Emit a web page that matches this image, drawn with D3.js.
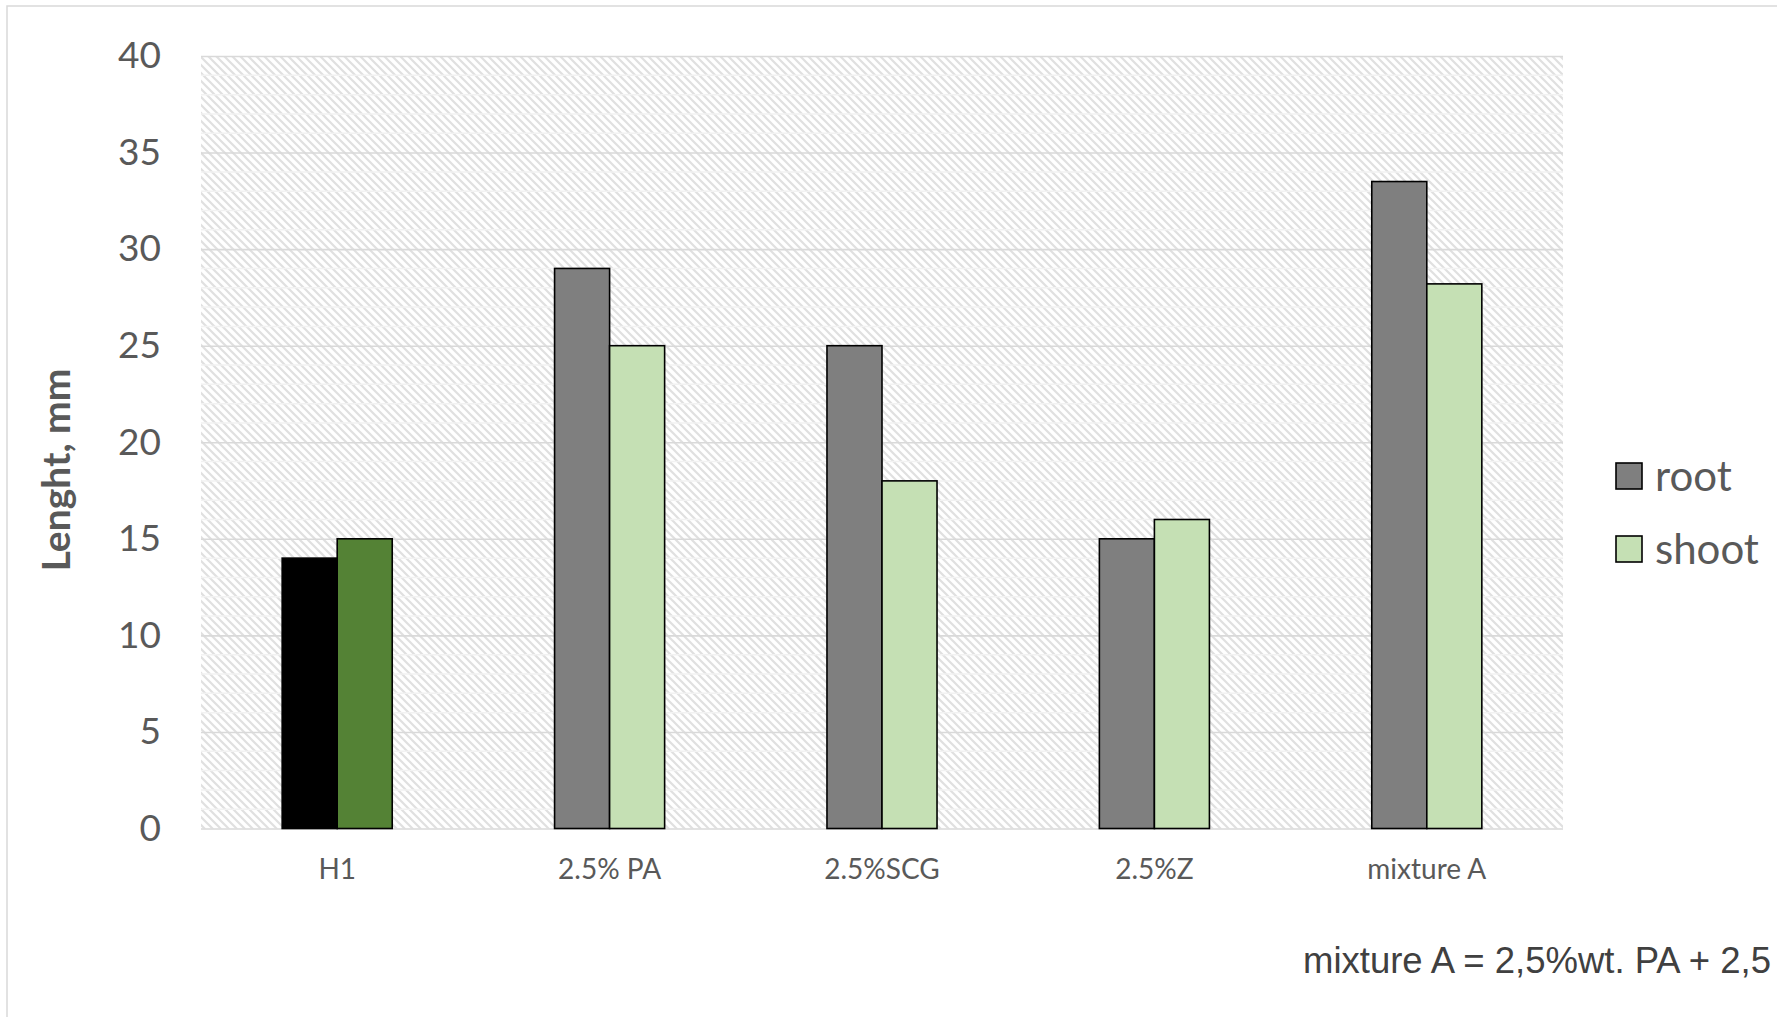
<!DOCTYPE html>
<html>
<head>
<meta charset="utf-8">
<script src="https://cdn.jsdelivr.net/npm/d3@7/dist/d3.min.js"></script>
<style>
  html, body { margin: 0; padding: 0; background: #fff; overflow: hidden; }
  svg { display: block; }
</style>
</head>
<body>
<svg id="chart" width="1777" height="1017"></svg>
<script>
const categories = ["H1", "2.5% PA", "2.5%SCG", "2.5%Z", "mixture A"];
const seriesNames = ["root", "shoot"];
const rootValues = [14, 29, 25, 15, 33.5];
const shootValues = [15, 25, 18, 16, 28.2];
const yTicks = [0, 5, 10, 15, 20, 25, 30, 35, 40];
const rootColors = ["#000000", "#7f7f7f", "#7f7f7f", "#7f7f7f", "#7f7f7f"];
const shootColors = ["#548235", "#c5e0b4", "#c5e0b4", "#c5e0b4", "#c5e0b4"];
const yTitle = "Lenght, mm";
const footnote = "mixture A = 2,5%wt. PA + 2,5";

const svg = d3.select("#chart");
const W = 1777, H = 1017;
const plot = { left: 201, right: 1563, top: 56, bottom: 828.5 };

// chart border
svg.append("rect").attr("x", 7).attr("y", 6).attr("width", 2000).attr("height", 2000)
  .attr("fill", "#fff").attr("stroke", "#d9d9d9").attr("stroke-width", 1.5);

// hatch pattern
const defs = svg.append("defs");
const pat = defs.append("pattern").attr("id", "hatch")
  .attr("patternUnits", "userSpaceOnUse").attr("width", 8).attr("height", 8);
pat.append("rect").attr("width", 8).attr("height", 8).attr("fill", "#ffffff");
pat.append("path").attr("d", "M-2,-2 L10,10 M-2,6 L2,10 M6,-2 L10,2")
  .attr("stroke", "#e0e0e0").attr("stroke-width", 2.2);

const y = d3.scaleLinear().domain([0, 40]).range([plot.bottom, plot.top]);
const x0 = d3.scaleBand().domain(categories).range([plot.left, plot.right])
  .paddingInner(0.596).paddingOuter(0.298);
const x1 = d3.scaleBand().domain(seriesNames).range([0, x0.bandwidth()]);

svg.append("rect").attr("x", plot.left).attr("y", plot.top)
  .attr("width", plot.right - plot.left).attr("height", plot.bottom - plot.top)
  .attr("fill", "url(#hatch)");

// minor gridlines
const minor = d3.range(1, 40).filter(v => v % 5 !== 0);
svg.append("g").selectAll("line").data(minor).join("line")
  .attr("x1", plot.left).attr("x2", plot.right)
  .attr("y1", d => y(d)).attr("y2", d => y(d))
  .attr("stroke", "#f2f2f2").attr("stroke-width", 1.5);

// major gridlines via axis
const yAxisGrid = d3.axisLeft(y).tickValues(yTicks).tickSize(-(plot.right - plot.left)).tickFormat("");
const gGrid = svg.append("g").attr("transform", `translate(${plot.left},0)`).call(yAxisGrid);
gGrid.select(".domain").remove();
gGrid.selectAll("line").attr("stroke", "#d9d9d9").attr("stroke-width", 1.6);

// y tick labels
const yAxis = d3.axisLeft(y).tickValues(yTicks).tickSize(0).tickPadding(40);
const gY = svg.append("g").attr("transform", `translate(${plot.left},0)`).call(yAxis);
gY.select(".domain").remove();
gY.selectAll("text").attr("font-family", "Lato, sans-serif").attr("font-size", 37)
  .attr("fill", "#595959");

// x labels
const xAxis = d3.axisBottom(x0).tickSize(0).tickPadding(31);
const gX = svg.append("g").attr("transform", `translate(0,${plot.bottom})`).call(xAxis);
gX.select(".domain").remove();
gX.selectAll("text").attr("font-family", "Lato, sans-serif").attr("font-size", 28)
  .attr("fill", "#595959");

// bars
const rows = categories.map((c, i) => ({ c, i, vals: [
  { s: "root", v: rootValues[i], col: rootColors[i] },
  { s: "shoot", v: shootValues[i], col: shootColors[i] }
]}));
const gB = svg.append("g");
gB.selectAll("g").data(rows).join("g")
  .attr("transform", d => `translate(${x0(d.c)},0)`)
  .selectAll("rect").data(d => d.vals).join("rect")
  .attr("x", d => x1(d.s)).attr("width", x1.bandwidth())
  .attr("y", d => y(d.v)).attr("height", d => y(0) - y(d.v))
  .attr("fill", d => d.col).attr("stroke", "#000").attr("stroke-width", 1.6);

// y title
svg.append("text").attr("transform", "translate(70,470) rotate(-90)")
  .attr("text-anchor", "middle").attr("font-family", "Lato, sans-serif")
  .attr("font-weight", "bold").attr("font-size", 39).attr("fill", "#595959")
  .text(yTitle);

// legend
const legColors = ["#7f7f7f", "#c5e0b4"];
const lg = svg.append("g");
seriesNames.forEach((s, i) => {
  const cy = 476 + i * 73;
  lg.append("rect").attr("x", 1616).attr("y", cy - 13).attr("width", 26).attr("height", 26)
    .attr("fill", legColors[i]).attr("stroke", "#000").attr("stroke-width", 1.6);
  lg.append("text").attr("x", 1655).attr("y", cy).attr("dy", "0.35em")
    .attr("font-family", "Lato, sans-serif").attr("font-size", 42).attr("fill", "#595959")
    .text(s);
});

// footnote
svg.append("text").attr("x", 1303).attr("y", 973)
  .attr("font-family", "Liberation Sans, Arial, sans-serif").attr("font-size", 36.5)
  .attr("fill", "#404040").text(footnote);
</script>
</body>
</html>
